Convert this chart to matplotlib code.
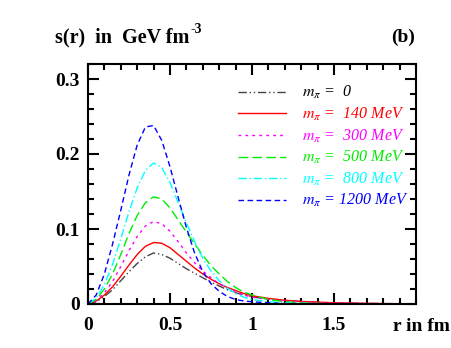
import matplotlib
matplotlib.use("Agg")
import matplotlib.pyplot as plt
from matplotlib.ticker import MultipleLocator

plt.rcParams['mathtext.fontset'] = 'stix'
plt.rcParams['font.family'] = ['Liberation Serif', 'DejaVu Serif']

r = [0, 0.05, 0.1, 0.15, 0.2, 0.25, 0.3, 0.35, 0.4, 0.45, 0.5, 0.55, 0.6, 0.65, 0.7,
     0.75, 0.8, 0.85, 0.9, 0.95, 1.0, 1.1, 1.2, 1.3, 1.4, 1.5, 1.6, 1.8, 2.0]

s_m0 = [0, 0.003, 0.010, 0.019, 0.031, 0.043, 0.054, 0.063, 0.068, 0.066, 0.061, 0.054, 0.047,
        0.041, 0.035, 0.029, 0.024, 0.019, 0.015, 0.012, 0.0095, 0.0065, 0.0045, 0.0032, 0.0023,
        0.0016, 0.0011, 0.0005, 0.0002]
s_m140 = [0, 0.004, 0.012, 0.023, 0.037, 0.052, 0.066, 0.077, 0.082, 0.081, 0.075, 0.066, 0.057,
          0.048, 0.040, 0.033, 0.027, 0.022, 0.018, 0.014, 0.011, 0.0075, 0.005, 0.0035, 0.0025,
          0.0017, 0.0012, 0.0006, 0.0003]
s_m300 = [0, 0.005, 0.015, 0.030, 0.050, 0.071, 0.090, 0.104, 0.110, 0.107, 0.097, 0.083, 0.068,
          0.055, 0.044, 0.035, 0.027, 0.021, 0.016, 0.012, 0.009, 0.006, 0.004, 0.0025, 0.0017,
          0.0011, 0.0007, 0.0003, 0.0001]
s_m500 = [0, 0.006, 0.020, 0.040, 0.066, 0.094, 0.118, 0.135, 0.143, 0.140, 0.128, 0.112, 0.096,
          0.080, 0.065, 0.051, 0.040, 0.030, 0.022, 0.016, 0.012, 0.006, 0.003, 0.0015, 0.0008,
          0.0004, 0.0002, 0, 0]
s_m800 = [0, 0.008, 0.026, 0.053, 0.087, 0.123, 0.155, 0.178, 0.188, 0.182, 0.162, 0.135, 0.108,
          0.083, 0.061, 0.044, 0.031, 0.021, 0.014, 0.009, 0.006, 0.003, 0.0015, 0.0007, 0.0003,
          0.0001, 0, 0, 0]
s_m1200 = [0, 0.012, 0.040, 0.080, 0.125, 0.172, 0.212, 0.236, 0.238, 0.218, 0.183, 0.142, 0.102,
           0.068, 0.043, 0.027, 0.017, 0.010, 0.006, 0.004, 0.003, 0.0015, 0.0007, 0.0003, 0.0001,
           0, 0, 0, 0]

labels = [r"$m_\pi$ =  0", r"$m_\pi$ =  140 MeV", r"$m_\pi$ =  300 MeV",
          r"$m_\pi$ =  500 MeV", r"$m_\pi$ =  800 MeV", r"$m_\pi$ = 1200 MeV"]
series = [s_m0, s_m140, s_m300, s_m500, s_m800, s_m1200]
colors = ['#444444', '#ff0000', '#ff00ff', '#00ee00', '#00ffff', '#0000ff']
styles = [(0, (6, 2, 1, 2, 1, 2)), '-', (0, (2, 3)), (0, (7, 3)), (0, (6, 2, 1, 2)), (0, (4, 2.5))]

fig = plt.figure(figsize=(4.52, 3.48), dpi=100)
ax = fig.add_axes([88/452, 1-304/348, (416-88)/452, (304-64)/348])

for s, c, ls, lab in zip(series, colors, styles, labels):
    ax.plot(r, s, color=c, ls=ls, lw=1.0, label=lab)

ax.set_xlim(0, 2.0)
ax.set_ylim(0, 0.32)
ax.xaxis.set_minor_locator(MultipleLocator(0.1))
ax.yaxis.set_minor_locator(MultipleLocator(0.02))
ax.set_xticks([0, 0.5, 1, 1.5])
ax.set_xticklabels(['0', '0.5', '1', '1.5'])
ax.set_yticks([0, 0.1, 0.2, 0.3])
ax.set_yticklabels(['0', '0.1', '0.2', '0.3'])
ax.tick_params(which='both', direction='in', top=True, right=True, width=1.5)
ax.tick_params(which='major', length=8, pad=9)
ax.tick_params(which='minor', length=4)
for lab in ax.get_xticklabels() + ax.get_yticklabels():
    lab.set_fontsize(14)
    lab.set_fontweight('bold')
ax.tick_params(axis='y', pad=6)
for sp in ax.spines.values():
    sp.set_linewidth(1.5)

leg = ax.legend(loc='upper right', bbox_to_anchor=(1.02, 0.975), frameon=False,
                handlelength=3.0, handletextpad=1.0, labelspacing=0.28,
                prop={'family': 'Liberation Serif', 'style': 'italic', 'size': 11.5})
for txt, c in zip(leg.get_texts(), colors):
    txt.set_color(c if c != '#444444' else 'black')

fig.text(55/452, 1-42/348, "s(r)  in  GeV fm", fontsize=14.5, fontweight='bold',
         ha='left', va='baseline')
fig.text(191/452, 1-33/348, "-3", fontsize=10, fontweight='bold', ha='left', va='baseline')
fig.text(415/452, 1-42/348, "(b)", fontsize=14, fontweight='bold', ha='right', va='baseline')
fig.text(450/452, 1-331/348, "r in fm", fontsize=14, fontweight='bold', ha='right', va='baseline')

fig.savefig("out.png", dpi=100)
